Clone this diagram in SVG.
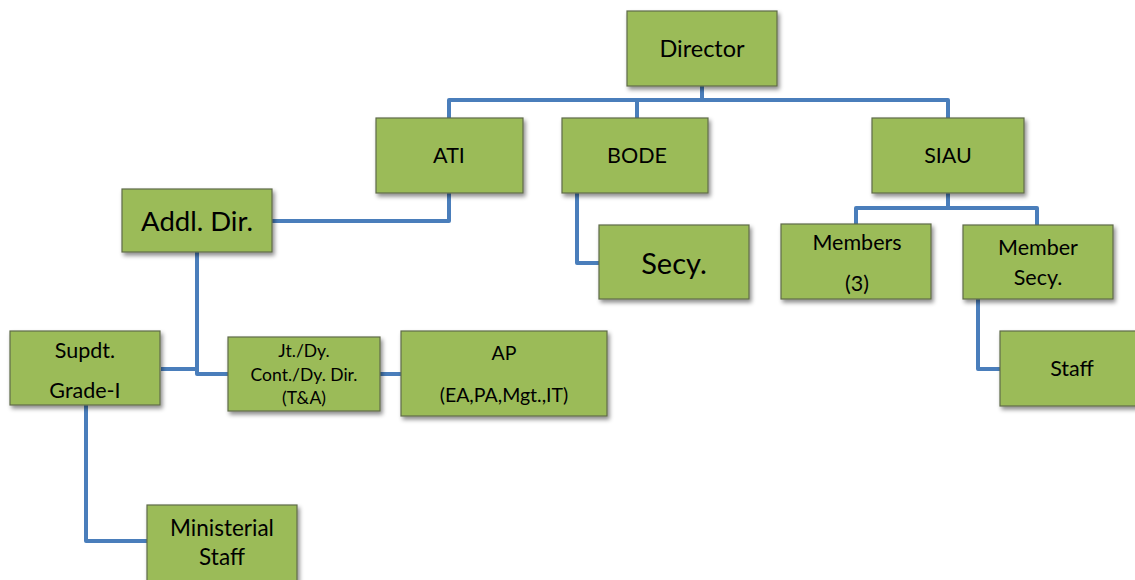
<svg xmlns="http://www.w3.org/2000/svg" width="1135" height="580" viewBox="0 0 1135 580">
<style>
.box{fill:#9BBB59;stroke:#5f6b4a;stroke-width:1.2;filter:url(#sh)}
.t{font-family:Lato,"Open Sans","Liberation Sans",sans-serif;fill:#000;text-anchor:middle}
.c{fill:none;stroke:#4A7EBB;stroke-width:4;stroke-linejoin:round}
</style>
<defs>
<filter id="sh" x="-10%" y="-10%" width="130%" height="140%">
<feDropShadow dx="2" dy="3" stdDeviation="2" flood-color="#000" flood-opacity="0.45"/>
</filter>
</defs>
<rect width="1135" height="580" fill="#fff"/>
<g id="connectors">
<path class="c" d="M702,86 V100 M449,118 V100 H948 V118 M637,100 V118"/>
<path class="c" d="M449,193 V221 H272"/>
<path class="c" d="M577,193 V263 H599"/>
<path class="c" d="M948,193 V208 M856,224 V208 H1037 V225"/>
<path class="c" d="M978,299 V369 H1000"/>
<path class="c" d="M197,252 V374 H228 M161,369 H197"/>
<path class="c" d="M380,374 H401"/>
<path class="c" d="M86,405 V541 H147"/>
</g>
<g id="director"><rect class="box" x="627" y="11" width="150" height="75"/><text class="t" x="702" y="57" font-size="23.5">Director</text></g>
<g id="ati"><rect class="box" x="376" y="118" width="147" height="75"/><text class="t" x="449" y="163" font-size="21.5">ATI</text></g>
<g id="bode"><rect class="box" x="562" y="118" width="146" height="75"/><text class="t" x="637" y="163" font-size="21.5">BODE</text></g>
<g id="siau"><rect class="box" x="872" y="118" width="152" height="75"/><text class="t" x="948" y="163" font-size="21.5">SIAU</text></g>
<g id="addl-dir"><rect class="box" x="122" y="189" width="150" height="63"/><text class="t" x="197" y="231" font-size="27.5">Addl. Dir.</text></g>
<g id="secy"><rect class="box" x="599" y="225" width="150" height="74"/><text class="t" x="674" y="274" font-size="29">Secy.</text></g>
<g id="members"><rect class="box" x="781" y="224" width="150" height="75"/><text class="t" x="857" y="250" font-size="21.5">Members</text><text class="t" x="857" y="291" font-size="21.5">(3)</text></g>
<g id="member-secy"><rect class="box" x="963" y="225" width="150" height="74"/><text class="t" x="1038" y="255" font-size="21.5">Member</text><text class="t" x="1038" y="285" font-size="21.5">Secy.</text></g>
<g id="staff"><rect class="box" x="1000" y="331" width="140" height="75"/><text class="t" x="1072" y="376" font-size="21.5">Staff</text></g>
<g id="supdt"><rect class="box" x="10" y="331" width="150" height="74"/><text class="t" x="85" y="358" font-size="21.5">Supdt.</text><text class="t" x="85" y="398" font-size="21.5">Grade-I</text></g>
<g id="jt-dy"><rect class="box" x="228" y="337" width="152" height="74"/><text class="t" x="304" y="357" font-size="17.5">Jt./Dy.</text><text class="t" x="304" y="381" font-size="17.5">Cont./Dy. Dir.</text><text class="t" x="304" y="404" font-size="17.5">(T&amp;A)</text></g>
<g id="ap"><rect class="box" x="401" y="331" width="206" height="85"/><text class="t" x="504" y="360" font-size="19.5">AP</text><text class="t" x="504" y="402" font-size="19.5">(EA,PA,Mgt.,IT)</text></g>
<g id="ministerial-staff"><rect class="box" x="147" y="505" width="150" height="80"/><text class="t" x="222" y="536" font-size="22.5">Ministerial</text><text class="t" x="222" y="565" font-size="22.5">Staff</text></g>
</svg>
